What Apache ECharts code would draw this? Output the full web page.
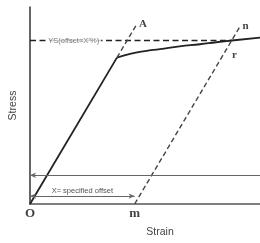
<!DOCTYPE html>
<html>
<head>
<meta charset="utf-8">
<script src="https://cdn.jsdelivr.net/npm/echarts@6/dist/echarts.min.js"></script>
<style>
  html, body { margin: 0; padding: 0; background: #fff; }
  #chart { width: 260px; height: 243px; }
</style>
</head>
<body>
<div id="chart"></div>
<script>
// strain / stress values (arbitrary units, 0..100)
const elasticLine = [[0, 0], [37.8, 74.3]];
const plasticCurve = [[37.8, 74.3], [43.5, 76.2], [50, 77.6], [56.5, 78.6], [65, 80], [73.9, 81.1], [81, 82.1], [87.8, 83], [100, 84.5]];
const elasticExtension = [[37.8, 74.3], [46.5, 91.4]];
const offsetLine = [[45.5, 0], [91.5, 90.5]];
const yieldStress = 83;
const yieldStrain = 87.8;
const offsetStrain = 45.5;
const refLevel = 14.6;
const arrowLevel = 4;
const baseLabels = [
    { name: "O", value: [0, 0] },
    { name: "m", value: [45.5, 0] }
];
const upperLabels = [
    { name: "A", value: [46.5, 91.4] },
    { name: "n", value: [91.5, 90.5] },
    { name: "r", value: [87.8, 83] }
];

const chart = echarts.init(document.getElementById("chart"));

chart.setOption({
    animation: false,
    grid: { left: 30, right: 0, top: 7, bottom: 30 },
    xAxis: {
        type: "value", min: 0, max: 100,
        name: "Strain", nameLocation: "middle", nameGap: 23,
        nameTextStyle: { fontFamily: "Liberation Sans", fontSize: 10.5, color: "#444", padding: [0, 0, 0, 30] },
        axisLine: { lineStyle: { color: "#555", width: 1.5 } },
        axisTick: { show: false }, axisLabel: { show: false }, splitLine: { show: false }
    },
    yAxis: {
        type: "value", min: 0, max: 100,
        name: "Stress", nameLocation: "middle", nameGap: 11,
        nameTextStyle: { fontFamily: "Liberation Sans", fontSize: 10.5, color: "#444" },
        axisLine: { show: true, lineStyle: { color: "#333", width: 1.5 } },
        axisTick: { show: false }, axisLabel: { show: false }, splitLine: { show: false }
    },
    series: [
        {
            type: "line", data: elasticLine, symbol: "none",
            lineStyle: { color: "#222", width: 1.8 }
        },
        {
            type: "line", data: plasticCurve, symbol: "none", smooth: true,
            lineStyle: { color: "#222", width: 1.8 }
        },
        {
            type: "line", data: elasticExtension, symbol: "none",
            lineStyle: { color: "#444", width: 1.4, type: [5, 3] }
        },
        {
            type: "line", data: offsetLine, symbol: "none",
            lineStyle: { color: "#444", width: 1.4, type: [5, 3] }
        },
        {
            type: "line", data: [[0, yieldStress], [yieldStrain, yieldStress]], symbol: "none",
            lineStyle: { color: "#222", width: 1.5, type: [6, 3.5] },
            z: 1
        },
        {
            type: "line", data: [], symbol: "none",
            markLine: {
                silent: true,
                data: [
                    [{ coord: [0, refLevel], symbol: "arrow", symbolSize: [4, 6] },
                     { coord: [100, refLevel], symbol: "none" }],
                    [{ coord: [0, arrowLevel], symbol: "arrow", symbolSize: [4, 6] },
                     { coord: [offsetStrain, arrowLevel], symbol: "arrow", symbolSize: [4, 6],
                       label: { show: true, position: "insideMiddleTop", distance: 1,
                                formatter: "X= specified offset", fontSize: 7.5,
                                fontFamily: "Liberation Sans", color: "#555" } }]
                ],
                label: { show: false },
                lineStyle: { color: "#666", width: 1, type: "solid" }
            }
        },
        {
            type: "scatter", data: [[19, yieldStress]], symbolSize: 0,
            label: {
                show: true, position: "inside", formatter: "YS(offset=X\u2019%)",
                fontFamily: "Liberation Sans", fontSize: 7.5, color: "#555",
                backgroundColor: "#fff", padding: [1, 2]
            },
            z: 5
        },
        {
            type: "scatter", data: baseLabels, symbolSize: 0,
            label: {
                show: true, formatter: "{b}", fontFamily: "Liberation Serif",
                fontWeight: "bold", color: "#111", position: "bottom", distance: 3, fontSize: 13
            }
        },
        {
            type: "scatter", data: upperLabels, symbolSize: 0,
            label: {
                show: true, formatter: "{b}", fontFamily: "Liberation Serif",
                fontWeight: "bold", color: "#111", position: "right", fontSize: 11
            },
            labelLayout: function (p) {
                if (p.text === "r") return { x: p.rect.x, y: p.rect.y + 9 };
                return { x: p.rect.x + 2, y: p.rect.y - 5 };
            }
        }
    ]
});
</script>
</body>
</html>
